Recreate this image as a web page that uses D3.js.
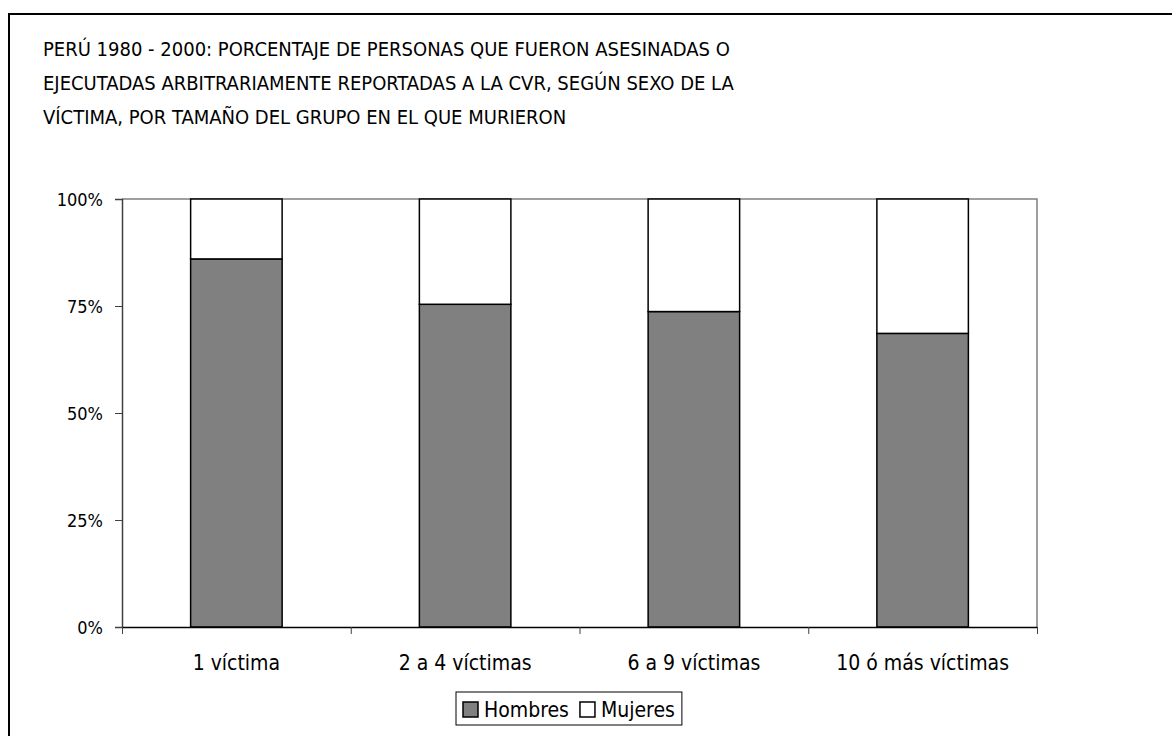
<!DOCTYPE html>
<html>
<head>
<meta charset="utf-8">
<script src="https://cdn.jsdelivr.net/npm/d3@7"></script>
<style>
  body { margin: 0; background: #fff; }
  text { font-family: "DejaVu Sans Condensed", "DejaVu Sans", sans-serif; font-stretch: condensed; fill: #000; }
</style>
</head>
<body>
<script>
// data
const categories = ['1 víctima', '2 a 4 víctimas', '6 a 9 víctimas', '10 ó más víctimas']
const hombres = [0.86, 0.754, 0.737, 0.686]
const mujeres = hombres.map(v => 1 - v)
const yTicks = [0, 0.25, 0.5, 0.75, 1]
const titleLines = [
    'PERÚ 1980 - 2000: PORCENTAJE DE PERSONAS QUE FUERON ASESINADAS O',
    'EJECUTADAS ARBITRARIAMENTE REPORTADAS A LA CVR, SEGÚN SEXO DE LA',
    'VÍCTIMA, POR TAMAÑO DEL GRUPO EN EL QUE MURIERON'
]
const seriesNames = ['Hombres', 'Mujeres']
const seriesColors = ['#808080', '#ffffff']

const w = 1172
const h = 736
const plot = { left: 122, top: 199, right: 1037, bottom: 627 }

const svg = d3.select('body')
    .append('svg')
    .attr('width', w)
    .attr('height', h)

// outer frame (runs off the right and bottom edges)
svg.append('rect')
    .attr('x', 9)
    .attr('y', 14)
    .attr('width', 1300)
    .attr('height', 900)
    .style('fill', 'none')
    .style('stroke', '#000')
    .style('stroke-width', 2)

// title
svg.append('g')
    .selectAll('text')
    .data(titleLines)
    .enter()
    .append('text')
    .attr('x', 43)
    .attr('y', (d, i) => 56 + i * 34)
    .style('font-size', '20px')
    .text(d => d)

// scales
const xScale = d3.scaleBand()
    .domain(categories)
    .range([plot.left, plot.right])
    .paddingInner(0.6)
    .paddingOuter(0.3)

const yScale = d3.scaleLinear()
    .domain([0, 1])
    .range([plot.bottom, plot.top])

// plot area border (top and right in grey)
svg.append('path')
    .attr('d', `M${plot.left},${plot.top}H${plot.right}V${plot.bottom}`)
    .style('fill', 'none')
    .style('stroke', '#808080')
    .style('stroke-width', 1.5)

// stacked bars
const stacked = categories.map((c, i) => ({ cat: c, h: hombres[i], m: mujeres[i] }))
const stack = d3.stack().keys(['h', 'm'])(stacked)

svg.append('g')
    .selectAll('g')
    .data(stack)
    .enter()
    .append('g')
    .style('fill', (d, i) => seriesColors[i])
    .selectAll('rect')
    .data(d => d)
    .enter()
    .append('rect')
    .attr('x', d => xScale(d.data.cat))
    .attr('y', d => yScale(d[1]))
    .attr('width', xScale.bandwidth())
    .attr('height', d => yScale(d[0]) - yScale(d[1]))
    .style('stroke', '#000')
    .style('stroke-width', 1.5)

// y axis
const yAxis = d3.axisLeft(yScale)
    .tickValues(yTicks)
    .tickFormat(d3.format('.0%'))
    .tickSize(7)
    .tickPadding(12)

const gy = svg.append('g')
    .attr('transform', `translate(${plot.left},0)`)
    .call(yAxis)
gy.select('.domain').attr('stroke', '#404040').attr('stroke-width', 1.5)
gy.selectAll('.tick line').attr('stroke', '#404040')
gy.selectAll('text').style('font-size', '18px').attr('dy', '0.35em')

// x axis: ticks at category boundaries
const edgeScale = d3.scaleLinear().domain([0, categories.length]).range([plot.left, plot.right])
const gx = svg.append('g')
    .attr('transform', `translate(0,${plot.bottom})`)
    .call(d3.axisBottom(edgeScale).tickValues(d3.range(categories.length + 1)).tickFormat('').tickSize(7).tickSizeOuter(0))
gx.select('.domain').attr('stroke', '#000').attr('stroke-width', 1.5)
gx.selectAll('.tick line').attr('stroke', '#404040')

// category labels
const gl = svg.append('g')
    .attr('transform', `translate(0,${plot.bottom})`)
    .call(d3.axisBottom(xScale).tickSize(0).tickPadding(28))
gl.select('.domain').remove()
gl.selectAll('text').style('font-size', '21px')

// legend
const legend = svg.append('g')
const legendBox = legend.append('rect')
    .attr('x', 456)
    .attr('y', 692)
    .attr('height', 33)
    .style('fill', '#fff')
    .style('stroke', '#000')
    .style('stroke-width', 1)

let lx = 463
seriesNames.forEach((name, i) => {
    legend.append('rect')
        .attr('x', lx)
        .attr('y', 702)
        .attr('width', 15)
        .attr('height', 15)
        .style('fill', seriesColors[i])
        .style('stroke', '#000')
        .style('stroke-width', 1.5)
    const t = legend.append('text')
        .attr('x', lx + 21)
        .attr('y', 717)
        .style('font-size', '21px')
        .text(name)
    lx += 21 + t.node().getComputedTextLength() + 11
})
legendBox.attr('width', lx - 456 - 4)
</script>
</body>
</html>
